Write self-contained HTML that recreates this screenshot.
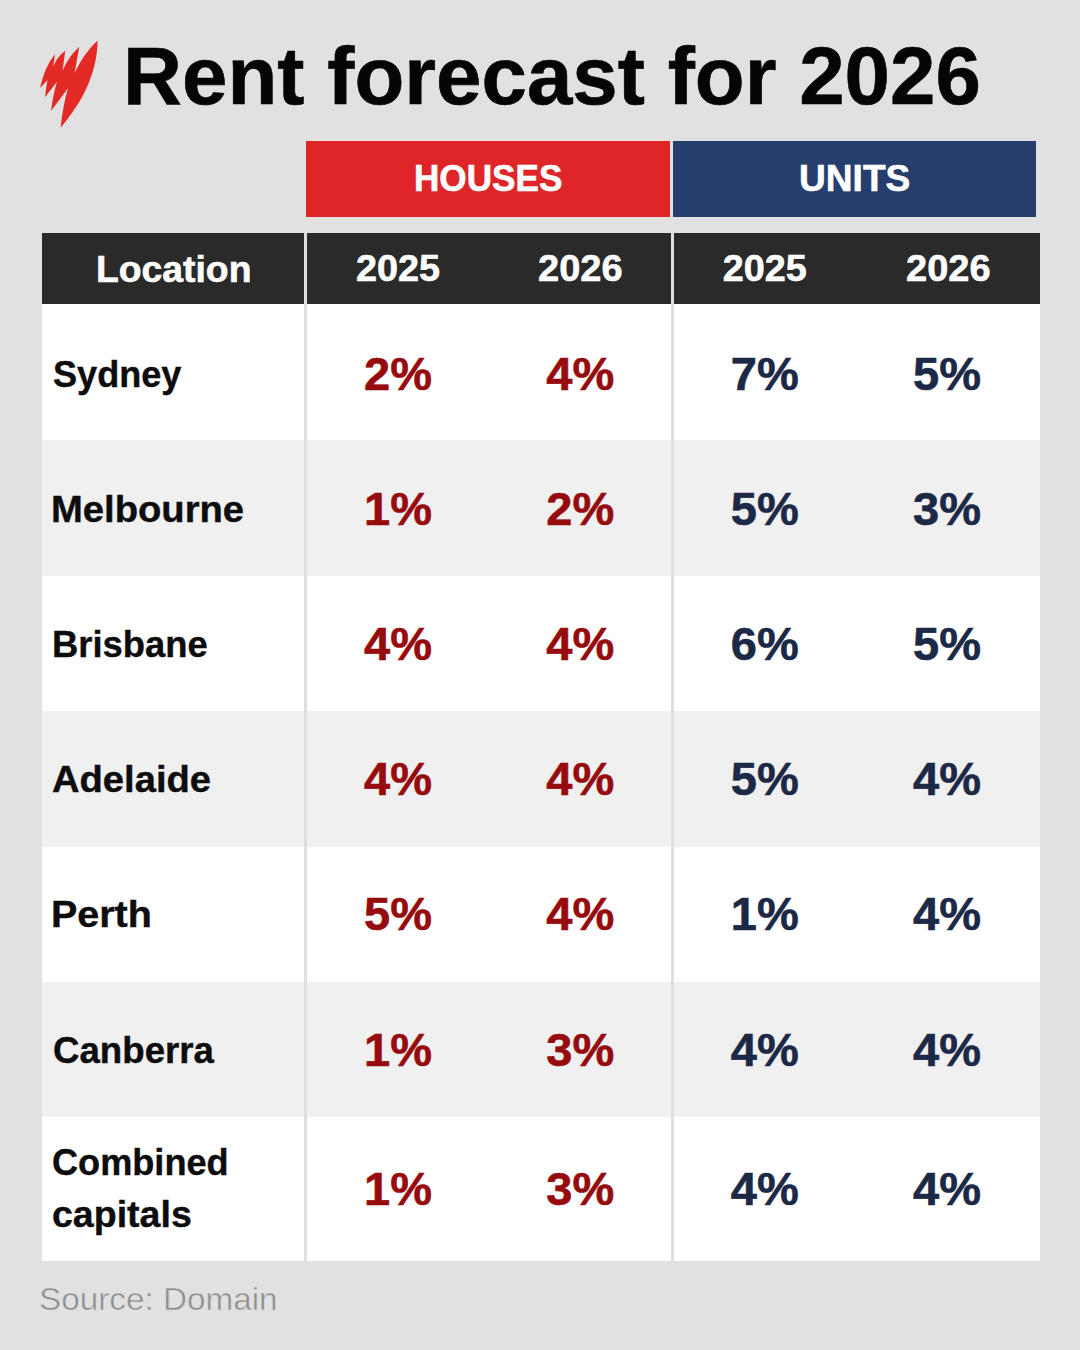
<!DOCTYPE html>
<html><head><meta charset="utf-8"><style>
html,body{margin:0;padding:0}
body{width:1080px;height:1350px;background:#e1e1e1;position:relative;overflow:hidden;font-family:"Liberation Sans",sans-serif}
.b{position:absolute}
.t{position:absolute;line-height:1;white-space:nowrap;transform-origin:0 0}
</style></head><body>
<svg width="1080" height="140" viewBox="0 0 1080 140" style="position:absolute;left:0;top:0">
<path fill="#e32a26" d="M97.6 40.6 C97.5 58 93 74 87 87 C81 101 71 115 60.6 127.8 Q63 105 68 88.3 L51 111 Q53 95 57 81.8 L45 97.3 Q46 87 47.6 80 L40 88 Q45 66 55 54.3 L53.3 66.5 Q57 57 65.2 50.8 L62.6 70.5 Q69 56 79.3 46.8 L74.6 73 Q84 53 97.6 40.6 Z"/>
</svg>
<div class="b" style="left:305.5px;top:140.5px;width:364px;height:76.5px;background:#e02528"></div>
<div class="b" style="left:673px;top:140.5px;width:363px;height:76.5px;background:#253e6e"></div>
<div class="b" style="left:42px;top:232.5px;width:998px;height:1028.5px;background:#dfdfdf"></div>
<div class="b" style="left:42px;top:232.5px;width:262px;height:71px;background:#2a2a2a"></div>
<div class="b" style="left:307px;top:232.5px;width:364px;height:71px;background:#2a2a2a"></div>
<div class="b" style="left:674px;top:232.5px;width:366px;height:71px;background:#2a2a2a"></div>
<div class="b" style="left:42px;top:304px;width:262px;height:136px;background:#ffffff"></div>
<div class="b" style="left:307px;top:304px;width:364px;height:136px;background:#ffffff"></div>
<div class="b" style="left:674px;top:304px;width:366px;height:136px;background:#ffffff"></div>
<div class="b" style="left:42px;top:440px;width:262px;height:135.5px;background:#f0f0f0"></div>
<div class="b" style="left:307px;top:440px;width:364px;height:135.5px;background:#f0f0f0"></div>
<div class="b" style="left:674px;top:440px;width:366px;height:135.5px;background:#f0f0f0"></div>
<div class="b" style="left:42px;top:575.5px;width:262px;height:135.5px;background:#ffffff"></div>
<div class="b" style="left:307px;top:575.5px;width:364px;height:135.5px;background:#ffffff"></div>
<div class="b" style="left:674px;top:575.5px;width:366px;height:135.5px;background:#ffffff"></div>
<div class="b" style="left:42px;top:711px;width:262px;height:135.5px;background:#f0f0f0"></div>
<div class="b" style="left:307px;top:711px;width:364px;height:135.5px;background:#f0f0f0"></div>
<div class="b" style="left:674px;top:711px;width:366px;height:135.5px;background:#f0f0f0"></div>
<div class="b" style="left:42px;top:846.5px;width:262px;height:135.5px;background:#ffffff"></div>
<div class="b" style="left:307px;top:846.5px;width:364px;height:135.5px;background:#ffffff"></div>
<div class="b" style="left:674px;top:846.5px;width:366px;height:135.5px;background:#ffffff"></div>
<div class="b" style="left:42px;top:982px;width:262px;height:135px;background:#f0f0f0"></div>
<div class="b" style="left:307px;top:982px;width:364px;height:135px;background:#f0f0f0"></div>
<div class="b" style="left:674px;top:982px;width:366px;height:135px;background:#f0f0f0"></div>
<div class="b" style="left:42px;top:1117px;width:262px;height:144px;background:#ffffff"></div>
<div class="b" style="left:307px;top:1117px;width:364px;height:144px;background:#ffffff"></div>
<div class="b" style="left:674px;top:1117px;width:366px;height:144px;background:#ffffff"></div>
<div class="t" style="left:122.96px;top:36px;font-size:81px;font-weight:700;color:#050505;transform:scaleX(1.0083);-webkit-text-stroke:0.6px #050505;">Rent forecast for 2026</div>
<div class="t" style="left:414.14px;top:160px;font-size:37.8px;font-weight:700;color:#ffffff;transform:scaleX(0.9295);-webkit-text-stroke:0.6px #fff;">HOUSES</div>
<div class="t" style="left:799.04px;top:160px;font-size:37.8px;font-weight:700;color:#ffffff;transform:scaleX(0.9818);-webkit-text-stroke:0.6px #fff;">UNITS</div>
<div class="t" style="left:96.03px;top:251px;font-size:37.8px;font-weight:700;color:#ffffff;transform:scaleX(0.9869);-webkit-text-stroke:0.6px #fff;">Location</div>
<div class="t" style="left:356.00px;top:250px;font-size:37.8px;font-weight:700;color:#ffffff;-webkit-text-stroke:0.6px #fff;">2025</div>
<div class="t" style="left:537.59px;top:250px;font-size:37.8px;font-weight:700;color:#ffffff;transform:scaleX(1.0061);-webkit-text-stroke:0.6px #fff;">2026</div>
<div class="t" style="left:722.80px;top:250px;font-size:37.8px;font-weight:700;color:#ffffff;-webkit-text-stroke:0.6px #fff;">2025</div>
<div class="t" style="left:905.74px;top:250px;font-size:37.8px;font-weight:700;color:#ffffff;transform:scaleX(1.0061);-webkit-text-stroke:0.6px #fff;">2026</div>
<div class="t" style="left:52.55px;top:356px;font-size:37.8px;font-weight:700;color:#0d0d0d;transform:scaleX(0.9549);-webkit-text-stroke:0.4px #0d0d0d;">Sydney</div>
<div class="t" style="left:364.00px;top:350px;font-size:47px;font-weight:700;color:#960b0e;-webkit-text-stroke:0.6px #960b0e;">2%</div>
<div class="t" style="left:546.30px;top:350px;font-size:47px;font-weight:700;color:#960b0e;-webkit-text-stroke:0.6px #960b0e;">4%</div>
<div class="t" style="left:730.80px;top:350px;font-size:47px;font-weight:700;color:#1b2946;-webkit-text-stroke:0.6px #1b2946;">7%</div>
<div class="t" style="left:913.00px;top:350px;font-size:47px;font-weight:700;color:#1b2946;-webkit-text-stroke:0.6px #1b2946;">5%</div>
<div class="t" style="left:51.48px;top:491px;font-size:37.8px;font-weight:700;color:#0d0d0d;transform:scaleX(1.0106);-webkit-text-stroke:0.4px #0d0d0d;">Melbourne</div>
<div class="t" style="left:364.00px;top:485px;font-size:47px;font-weight:700;color:#960b0e;-webkit-text-stroke:0.6px #960b0e;">1%</div>
<div class="t" style="left:546.30px;top:485px;font-size:47px;font-weight:700;color:#960b0e;-webkit-text-stroke:0.6px #960b0e;">2%</div>
<div class="t" style="left:730.80px;top:485px;font-size:47px;font-weight:700;color:#1b2946;-webkit-text-stroke:0.6px #1b2946;">5%</div>
<div class="t" style="left:913.00px;top:485px;font-size:47px;font-weight:700;color:#1b2946;-webkit-text-stroke:0.6px #1b2946;">3%</div>
<div class="t" style="left:51.58px;top:626px;font-size:37.8px;font-weight:700;color:#0d0d0d;transform:scaleX(0.9623);-webkit-text-stroke:0.4px #0d0d0d;">Brisbane</div>
<div class="t" style="left:364.00px;top:620px;font-size:47px;font-weight:700;color:#960b0e;-webkit-text-stroke:0.6px #960b0e;">4%</div>
<div class="t" style="left:546.30px;top:620px;font-size:47px;font-weight:700;color:#960b0e;-webkit-text-stroke:0.6px #960b0e;">4%</div>
<div class="t" style="left:730.80px;top:620px;font-size:47px;font-weight:700;color:#1b2946;-webkit-text-stroke:0.6px #1b2946;">6%</div>
<div class="t" style="left:913.00px;top:620px;font-size:47px;font-weight:700;color:#1b2946;-webkit-text-stroke:0.6px #1b2946;">5%</div>
<div class="t" style="left:52.49px;top:761px;font-size:37.8px;font-weight:700;color:#0d0d0d;transform:scaleX(1.0097);-webkit-text-stroke:0.4px #0d0d0d;">Adelaide</div>
<div class="t" style="left:364.00px;top:755px;font-size:47px;font-weight:700;color:#960b0e;-webkit-text-stroke:0.6px #960b0e;">4%</div>
<div class="t" style="left:546.30px;top:755px;font-size:47px;font-weight:700;color:#960b0e;-webkit-text-stroke:0.6px #960b0e;">4%</div>
<div class="t" style="left:730.80px;top:755px;font-size:47px;font-weight:700;color:#1b2946;-webkit-text-stroke:0.6px #1b2946;">5%</div>
<div class="t" style="left:913.00px;top:755px;font-size:47px;font-weight:700;color:#1b2946;-webkit-text-stroke:0.6px #1b2946;">4%</div>
<div class="t" style="left:51.41px;top:896px;font-size:37.8px;font-weight:700;color:#0d0d0d;transform:scaleX(1.0435);-webkit-text-stroke:0.4px #0d0d0d;">Perth</div>
<div class="t" style="left:364.00px;top:890px;font-size:47px;font-weight:700;color:#960b0e;-webkit-text-stroke:0.6px #960b0e;">5%</div>
<div class="t" style="left:546.30px;top:890px;font-size:47px;font-weight:700;color:#960b0e;-webkit-text-stroke:0.6px #960b0e;">4%</div>
<div class="t" style="left:730.80px;top:890px;font-size:47px;font-weight:700;color:#1b2946;-webkit-text-stroke:0.6px #1b2946;">1%</div>
<div class="t" style="left:913.00px;top:890px;font-size:47px;font-weight:700;color:#1b2946;-webkit-text-stroke:0.6px #1b2946;">4%</div>
<div class="t" style="left:52.53px;top:1032px;font-size:37.8px;font-weight:700;color:#0d0d0d;transform:scaleX(0.9697);-webkit-text-stroke:0.4px #0d0d0d;">Canberra</div>
<div class="t" style="left:364.00px;top:1026px;font-size:47px;font-weight:700;color:#960b0e;-webkit-text-stroke:0.6px #960b0e;">1%</div>
<div class="t" style="left:546.30px;top:1026px;font-size:47px;font-weight:700;color:#960b0e;-webkit-text-stroke:0.6px #960b0e;">3%</div>
<div class="t" style="left:730.80px;top:1026px;font-size:47px;font-weight:700;color:#1b2946;-webkit-text-stroke:0.6px #1b2946;">4%</div>
<div class="t" style="left:913.00px;top:1026px;font-size:47px;font-weight:700;color:#1b2946;-webkit-text-stroke:0.6px #1b2946;">4%</div>
<div class="t" style="left:52.24px;top:1144px;font-size:37.8px;font-weight:700;color:#0d0d0d;transform:scaleX(0.9560);-webkit-text-stroke:0.4px #0d0d0d;">Combined</div>
<div class="t" style="left:52.21px;top:1196px;font-size:37.8px;font-weight:700;color:#0d0d0d;transform:scaleX(0.9928);-webkit-text-stroke:0.4px #0d0d0d;">capitals</div>
<div class="t" style="left:364.00px;top:1165px;font-size:47px;font-weight:700;color:#960b0e;-webkit-text-stroke:0.6px #960b0e;">1%</div>
<div class="t" style="left:546.30px;top:1165px;font-size:47px;font-weight:700;color:#960b0e;-webkit-text-stroke:0.6px #960b0e;">3%</div>
<div class="t" style="left:730.80px;top:1165px;font-size:47px;font-weight:700;color:#1b2946;-webkit-text-stroke:0.6px #1b2946;">4%</div>
<div class="t" style="left:913.00px;top:1165px;font-size:47px;font-weight:700;color:#1b2946;-webkit-text-stroke:0.6px #1b2946;">4%</div>
<div class="t" style="left:38.62px;top:1283px;font-size:32px;font-weight:400;color:#8e8e8e;transform:scaleX(1.0398);-webkit-text-stroke:0.5px #e1e1e1;">Source: Domain</div>
</body></html>
